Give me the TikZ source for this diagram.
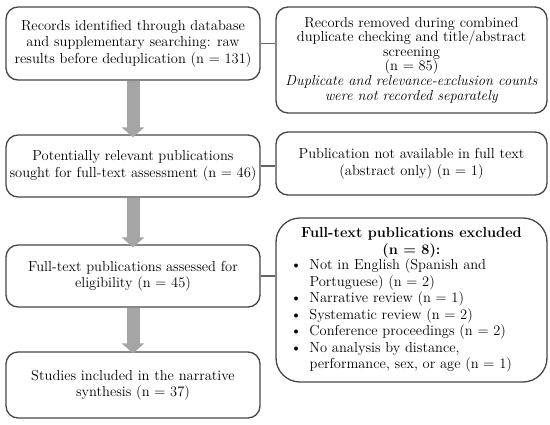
\documentclass[tikz,border=0pt]{standalone}
\usetikzlibrary{arrows.meta}
\definecolor{boxline}{RGB}{70,70,70}
\definecolor{conn}{RGB}{100,100,100}
\definecolor{arrowgray}{RGB}{165,165,165}
\tikzset{
  box/.style={draw=boxline, line width=1.3pt, rounded corners=12pt, align=center,
    inner sep=2pt, font=\fontsize{14.5}{16.5}\selectfont, text=black},
  bigarrow/.style={draw=arrowgray, line width=13pt, -{Triangle[width=22pt,length=10pt]}, arrowgray, fill=arrowgray},
  connector/.style={draw=conn, line width=1.4pt}
}
\newcommand{\bitem}{\par\hangindent=29pt\hangafter=1\noindent\makebox[29pt][l]{\hspace{10pt}\textbullet}}
\begin{document}
\begin{tikzpicture}[x=1pt,y=-1pt]
\useasboundingbox (0,0) rectangle (550,424);
\node[box, minimum width=254pt, minimum height=73pt] (b1) at (133,43.5)
  {Records identified through database\\and supplementary searching: raw\\results before deduplication (n = 131)};
\node[box, minimum width=271pt, minimum height=106pt, font=\fontsize{14.5}{14.6}\selectfont] (b2) at (411.5,60)
  {Records removed during combined\\duplicate checking and title/abstract\\screening\\(n = 85)\\\textit{Duplicate and relevance-exclusion counts}\\\textit{were not recorded separately}};
\node[box, minimum width=254pt, minimum height=62pt] (b3) at (133,166)
  {Potentially relevant publications\\sought for full-text assessment (n = 46)};
\node[box, minimum width=271pt, minimum height=63pt] (b4) at (411.5,163.5)
  {Publication not available in full text\\(abstract only) (n = 1)};
\node[box, minimum width=254pt, minimum height=62pt] (b5) at (133,276)
  {Full-text publications assessed for\\eligibility (n = 45)};
\node[box, rounded corners=24pt, minimum width=271pt, minimum height=164pt, align=left] (b6) at (411.5,300)
  {\parbox{262pt}{\centering\textbf{Full-text publications excluded}\\\textbf{(n = 8):}}\\
   \parbox{262pt}{%
   \bitem Not in English (Spanish and\\ Portuguese) (n = 2)
   \bitem Narrative review (n = 1)
   \bitem Systematic review (n = 2)
   \bitem Conference proceedings (n = 2)
   \bitem No analysis by distance,\\ performance, sex, or age (n = 1)}};
\node[box, minimum width=254pt, minimum height=66pt] (b7) at (133,385)
  {Studies included in the narrative\\synthesis (n = 37)};
\draw[bigarrow] (b1.south) -- ([yshift=-3pt]b3.north);
\draw[bigarrow] (b3.south) -- ([yshift=-3pt]b5.north);
\draw[bigarrow] (b5.south) -- ([yshift=-2pt]b7.north);
\draw[connector] (b1.east) -- (b1.east -| b2.west);
\draw[connector] (b3.east) -- (b3.east -| b4.west);
\draw[connector] (b5.east) -- (b5.east -| b6.west);
\end{tikzpicture}
\end{document}
